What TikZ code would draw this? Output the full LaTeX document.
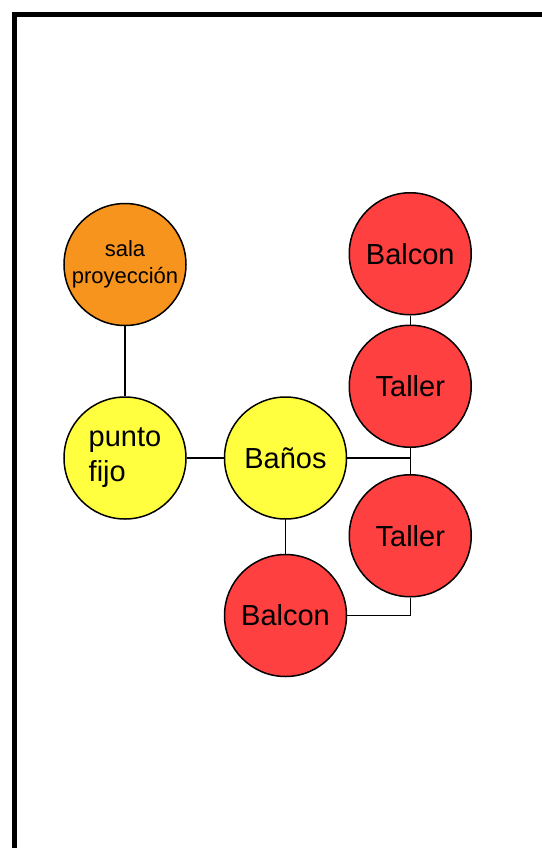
\documentclass[tikz,border=0pt]{standalone}
\usepackage{fontspec}
\setmainfont{Liberation Sans}
\usepackage{xcolor}
\usetikzlibrary{positioning}

\definecolor{naranja}{RGB}{247,148,29}
\definecolor{amarillo}{RGB}{255,255,64}
\definecolor{rojo}{RGB}{255,64,64}

\begin{document}
\begin{tikzpicture}[x=0.5pt, y=-0.5pt, line width=0.75pt,
		every node/.style={font=\fontsize{14.5}{17.5}\selectfont},
		espacio/.style={circle, draw, minimum size=61pt, inner sep=0pt}]
				\useasboundingbox (0,0) rectangle (542,848);
				\draw[line width=2.5pt, line join=miter] (542,14.5) -- (14.5,14.5) -- (14.5,848);
				
				\node[espacio, fill=amarillo, align=left] (fijo) at (125,458) {punto\\fijo};
				\node[espacio, fill=naranja, align=center, font=\fontsize{11}{13.5}\selectfont, above=35pt of fijo] (sala) {sala\\proyección};
				\node[espacio, fill=amarillo, right=18.5pt of fijo] (banos) {Baños};
				\node[espacio, fill=rojo, below=17pt of banos] (balcon2) {Balcon};
				\coordinate[right=31.5pt of banos] (union);
				\node[espacio, fill=rojo, above=5pt of union] (taller1) {Taller};
				\node[espacio, fill=rojo, below=8pt of union] (taller2) {Taller};
				\node[espacio, fill=rojo, above=4.5pt of taller1] (balcon1) {Balcon};
				
				\draw (sala) -- (fijo);
				\draw (fijo) -- (banos);
				\draw (banos) -- (balcon2);
				\draw (banos) -- (union);
				\draw (balcon1) -- (taller1);
				\draw (taller1) -- (taller2);
				\draw (balcon2) -| (taller2);
			\end{tikzpicture}
\end{document}
